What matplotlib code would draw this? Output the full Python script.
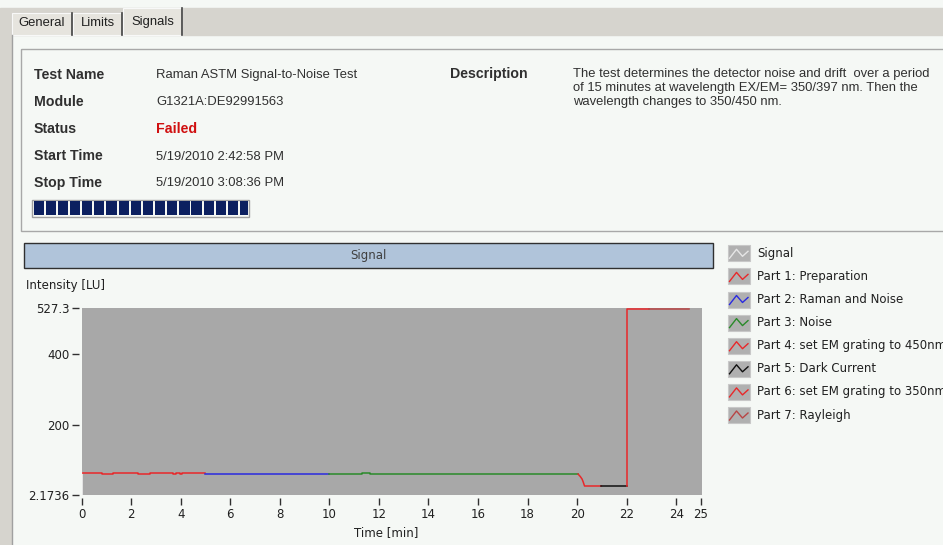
import matplotlib.pyplot as plt
from matplotlib.patches import Rectangle

W, H = 943, 545

# ---- data ----
info_labels = ['Test Name', 'Module', 'Status', 'Start Time', 'Stop Time']
info_values = ['Raman ASTM Signal-to-Noise Test', 'G1321A:DE92991563', 'Failed',
               '5/19/2010 2:42:58 PM', '5/19/2010 3:08:36 PM']
description = ['The test determines the detector noise and drift  over a period',
               'of 15 minutes at wavelength EX/EM= 350/397 nm. Then the',
               'wavelength changes to 350/450 nm.']
tabs = ['General', 'Limits', 'Signals']

signal_t = [0.03, 0.03]
signal_v = [2.1736, 63.2]
part1_t = [0.0, 0.80, 1.27, 2.28, 2.76, 3.70, 3.80, 3.95, 4.05, 4.98]
part1_v = [63.2, 60.5, 63.2, 60.5, 63.2, 61.0, 63.2, 61.0, 63.2, 63.2]
part2_t = [4.98, 9.99]
part2_v = [61.2, 61.2]
part3_t = [9.99, 11.33, 11.64, 20.04]
part3_v = [61.0, 64.5, 61.0, 61.0]
part4_t = [20.04, 20.13, 20.20, 20.24, 20.30, 20.98]
part4_v = [61.0, 54.0, 47.0, 40.0, 27.5, 27.5]
part5_t = [20.98, 22.0]
part5_v = [27.5, 27.5]
part6_t = [22.0, 22.0, 22.9]
part6_v = [27.5, 525.0, 525.0]
part7_t = [22.9, 24.52]
part7_v = [525.0, 525.0]

legend_labels = ['Signal', 'Part 1: Preparation', 'Part 2: Raman and Noise', 'Part 3: Noise',
                 'Part 4: set EM grating to 450nm', 'Part 5: Dark Current',
                 'Part 6: set EM grating to 350nm', 'Part 7: Rayleigh']
legend_colors = ['#e6e6e6', '#e8282a', '#2a2ae0', '#2a8a2a', '#e8282a', '#101010', '#e8282a', '#b84444']

yticks = [2.1736, 200, 400, 527.3]
ytick_labels = ['2.1736', '200', '400', '527.3']
xticks = [0, 2, 4, 6, 8, 10, 12, 14, 16, 18, 20, 22, 24, 25]

ui_font = ['Liberation Sans', 'DejaVu Sans']
ui_size = 9.4
txt = '#303030'

fig = plt.figure(figsize=(W / 100, H / 100), dpi=100)

# background canvas in pixel coordinates
bg = fig.add_axes([0, 0, 1, 1])
bg.set_xlim(0, W)
bg.set_ylim(H, 0)
bg.axis('off')
bg.add_patch(Rectangle((0, 0), W, H, color='#f5f8f5', zorder=0))
bg.add_patch(Rectangle((0, 8), W, 27, color='#d6d4ce', zorder=0))
bg.add_patch(Rectangle((0, 35), 11, H, color='#d6d4ce', zorder=0))
bg.plot([11.5, 11.5], [35, H], color='#a0a0a0', lw=1)

# tabs
tab_x = [(12, 72), (73, 122), (123, 182)]
for i, (name, (x0, x1)) in enumerate(zip(tabs, tab_x)):
    top = 8 if i == 2 else 13
    bg.add_patch(Rectangle((x0, top), x1 - x0, 35 - top, facecolor='#e6e4de',
                           edgecolor='#f8f8f8', lw=0.8, zorder=1))
    bg.plot([x1, x1], [top, 35], color='#404040', lw=1.2, zorder=2)
    bg.text((x0 + x1) / 2, 22.5 if i < 2 else 21.5, name, ha='center', va='center',
            fontsize=ui_size, family=ui_font, color='#202020', zorder=3)

# info box
bg.add_patch(Rectangle((21, 49), W, 182, facecolor='none', edgecolor='#a8a8a8', lw=1))
rows_y = [75, 102, 129, 156.5, 183]
for lab, val, y in zip(info_labels, info_values, rows_y):
    bg.text(34, y, lab, ha='left', va='center', fontsize=10.2, family=ui_font,
            fontweight='bold', color=txt)
    if val == 'Failed':
        bg.text(156, y, val, ha='left', va='center', fontsize=10.2, family=ui_font,
                fontweight='bold', color='#d01010')
    else:
        bg.text(156, y, val, ha='left', va='center', fontsize=ui_size, family=ui_font, color=txt)
bg.text(450, 74, 'Description', ha='left', va='center', fontsize=10.2, family=ui_font,
        fontweight='bold', color=txt)
for i, line in enumerate(description):
    bg.text(573, 73.5 + i * 14, line, ha='left', va='center', fontsize=ui_size,
            family=ui_font, color=txt)

# progress bar
bg.add_patch(Rectangle((31.7, 199.5), 216.8, 17.5, facecolor='#f5f8f5',
                       edgecolor='#a0a0a0', lw=1))
for k in range(18):
    x0 = 33.5 + k * 12.15
    w = min(10.2, 247.5 - x0)
    bg.add_patch(Rectangle((x0, 201.2), w, 14.2, color='#0c2060', lw=0))

# header bar
bg.add_patch(Rectangle((24, 243), 689, 25, facecolor='#b0c4da', edgecolor='#303030', lw=1))
bg.text(368.5, 255.5, 'Signal', ha='center', va='center', fontsize=8.5, color='#404040')
bg.text(26, 285, 'Intensity [LU]', ha='left', va='center', fontsize=8.5, color='#202020')
bg.text(386, 533, 'Time [min]', ha='center', va='center', fontsize=8.5, color='#202020')

# legend
for i, (lab, col) in enumerate(zip(legend_labels, legend_colors)):
    yc = 253.3 + i * 23.1
    bg.add_patch(Rectangle((727.5, yc - 8), 22, 16, facecolor='#b0b0b0',
                           edgecolor='#c8c8c8', lw=0.8))
    bg.plot([729.5, 736.5, 742.5, 748], [yc + 5, yc - 4, yc + 3, yc - 2], color=col, lw=1)
    bg.text(757, yc, lab, ha='left', va='center', fontsize=8.5, color='#202020')

# chart
ax = fig.add_axes([81.7 / W, 1 - 495 / H, (701.7 - 81.7) / W, (495 - 308.3) / H])
ax.set_facecolor('#a8a8a8')
ax.plot(signal_t, signal_v, color='#f0f0f0', lw=1.2)
ax.step(part1_t, part1_v, where='post', color='#e8282a', lw=1.1)
ax.step(part2_t, part2_v, where='post', color='#2a2ae0', lw=1.1)
ax.step(part3_t, part3_v, where='post', color='#2a8a2a', lw=1.1)
ax.plot(part4_t, part4_v, color='#e8282a', lw=1.1)
ax.plot(part5_t, part5_v, color='#101010', lw=1.1)
ax.plot(part6_t, part6_v, color='#e8282a', lw=1.1)
ax.plot(part7_t, part7_v, color='#b84444', lw=1.1)

ax.set_xlim(0, 25.03)
ax.set_ylim(2.1736, 527.3)
ax.set_xticks(xticks)
ax.set_xticklabels([str(v) for v in xticks])
ax.set_yticks(yticks)
ax.set_yticklabels(ytick_labels)
for side in ['left', 'bottom']:
    ax.spines[side].set_position(('outward', 2))
for s in ax.spines.values():
    s.set_visible(False)
ax.tick_params(direction='out', length=5, width=1, colors='#303030', labelsize=8.5, pad=2)
ax.tick_params(labelcolor='#202020')

plt.savefig('out.png', dpi=100)
